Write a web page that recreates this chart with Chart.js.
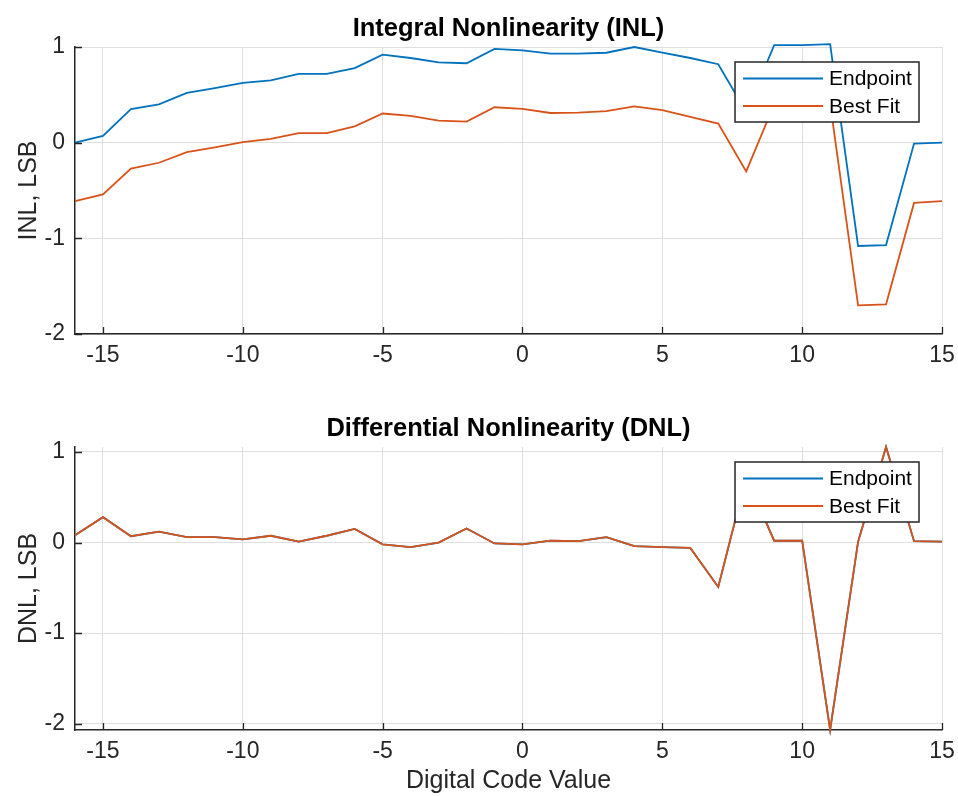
<!DOCTYPE html>
<html>
<head>
<meta charset="utf-8">
<script src="https://cdn.jsdelivr.net/npm/chart.js@4.4.1/dist/chart.umd.min.js"></script>
<style>
html, body { margin: 0; padding: 0; background: #fff; }
#wrap { position: relative; width: 958px; height: 796px; }
.box { position: absolute; left: 0; width: 958px; }
#topBox { top: 0; height: 390px; }
#botBox { top: 390px; height: 406px; }
</style>
</head>
<body>
<div id="wrap">
    <div class="box" id="topBox"><canvas id="inlChart"></canvas></div>
    <div class="box" id="botBox"><canvas id="dnlChart"></canvas></div>
</div>
<script>
// digital codes on the x axis
const codes = [-16, -15, -14, -13, -12, -11, -10, -9, -8, -7, -6, -5, -4, -3, -2, -1,
    0, 1, 2, 3, 4, 5, 6, 7, 8, 9, 10, 11, 12, 13, 14, 15]

// INL, LSB
const inlEndpoint = [0.00, 0.07, 0.35, 0.40, 0.52, 0.57, 0.625, 0.65, 0.72, 0.72, 0.78, 0.92, 0.885, 0.84, 0.83, 0.98,
    0.965, 0.93, 0.93, 0.94, 1.00, 0.94, 0.885, 0.82, 0.32, 1.02, 1.02, 1.03, -1.08, -1.07, -0.01, 0.00]
const inlBestFit = [-0.61, -0.54, -0.27, -0.21, -0.10, -0.05, 0.006, 0.04, 0.10, 0.10, 0.17, 0.305, 0.28, 0.23, 0.22, 0.37,
    0.354, 0.31, 0.315, 0.33, 0.38, 0.34, 0.27, 0.20, -0.30, 0.40, 0.40, 0.41, -1.70, -1.69, -0.63, -0.61]

// DNL, LSB (both methods give the same curve, orange sits on top of blue)
const dnlEndpoint = [0.08, 0.28, 0.07, 0.12, 0.06, 0.06, 0.035, 0.075, 0.01, 0.075, 0.15, -0.02, -0.05, 0.00, 0.155, -0.01,
    -0.02, 0.02, 0.015, 0.06, -0.04, -0.05, -0.06, -0.49, 0.72, 0.02, 0.02, -2.07, 0.01, 1.055, 0.015, 0.01]
const dnlBestFit = [0.08, 0.28, 0.07, 0.12, 0.06, 0.06, 0.035, 0.075, 0.01, 0.075, 0.15, -0.02, -0.05, 0.00, 0.155, -0.01,
    -0.02, 0.02, 0.015, 0.06, -0.04, -0.05, -0.06, -0.49, 0.72, 0.02, 0.02, -2.07, 0.01, 1.055, 0.015, 0.01]

const xTicks = [-15, -10, -5, 0, 5, 10, 15]
const yTicks = [-2, -1, 0, 1]
const seriesNames = ["Endpoint", "Best Fit"]

const BLUE = "#0072BD"
const ORANGE = "#D95319"
const AXIS = "#262626"
const FONT = "'Liberation Sans', Arial, sans-serif"

function points(values) {
    return codes.map((c, i) => ({ x: c, y: values[i] }))
}

// MATLAB-like extras: inward ticks, bold title, boxed legend
const matlabLook = {
    id: "matlabLook",
    afterDraw(chart, args, opts) {
        const { ctx, chartArea } = chart
        const xs = chart.scales.x
        const ys = chart.scales.y
        ctx.save()

        // inward tick marks
        ctx.strokeStyle = AXIS
        ctx.lineWidth = 1.3
        ctx.beginPath()
        xs.ticks.forEach(t => {
            const px = Math.round(xs.getPixelForValue(t.value)) + 0.5
            ctx.moveTo(px, chartArea.bottom)
            ctx.lineTo(px, chartArea.bottom - 7)
        })
        ys.ticks.forEach(t => {
            const py = Math.round(ys.getPixelForValue(t.value)) + 0.5
            ctx.moveTo(chartArea.left, py)
            ctx.lineTo(chartArea.left + 7, py)
        })
        ctx.stroke()

        // title
        ctx.fillStyle = "#000"
        ctx.font = "bold 25.5px " + FONT
        ctx.textAlign = "center"
        ctx.textBaseline = "alphabetic"
        ctx.fillText(opts.text, (chartArea.left + chartArea.right) / 2, chartArea.top - 11)

        // legend box
        const w = 184, h = 60
        const lx = chartArea.right - 207
        const ly = chartArea.top + 15
        ctx.fillStyle = "#fff"
        ctx.fillRect(lx, ly, w, h)
        ctx.strokeStyle = AXIS
        ctx.lineWidth = 1.5
        ctx.strokeRect(lx, ly, w, h)
        ctx.font = "21px " + FONT
        ctx.textAlign = "left"
        ctx.textBaseline = "middle"
        chart.data.datasets.forEach((ds, i) => {
            const yy = ly + 16.5 + i * 27.5
            ctx.strokeStyle = ds.borderColor
            ctx.lineWidth = 2
            ctx.beginPath()
            ctx.moveTo(lx + 8, yy)
            ctx.lineTo(lx + 88, yy)
            ctx.stroke()
            ctx.fillStyle = "#000"
            ctx.fillText(ds.label, lx + 94, yy + 1)
        })
        ctx.restore()
    }
}

function buildChart(canvasId, title, endpoint, bestFit, yMin, yMax, yTitle, xTitle, topPad, xAxisHeight) {
    return new Chart(document.getElementById(canvasId), {
        type: "line",
        data: {
            datasets: [
                // lower order is drawn on top, so Best Fit covers Endpoint
                { label: seriesNames[0], data: points(endpoint), borderColor: BLUE, borderWidth: 1.8, pointRadius: 0, tension: 0, clip: 6, order: 2 },
                { label: seriesNames[1], data: points(bestFit), borderColor: ORANGE, borderWidth: 1.8, pointRadius: 0, tension: 0, clip: 6, order: 1 }
            ]
        },
        options: {
            responsive: true,
            maintainAspectRatio: false,
            animation: false,
            layout: { padding: { top: topPad, right: 16, bottom: 0, left: 0 } },
            plugins: {
                legend: { display: false },
                tooltip: { enabled: false },
                matlabLook: { text: title }
            },
            scales: {
                x: {
                    type: "linear",
                    min: -16,
                    max: 15,
                    afterBuildTicks: s => { s.ticks = xTicks.map(v => ({ value: v })) },
                    afterFit: s => {
                        s.height = xAxisHeight
                        s.paddingLeft = 0
                        s.paddingRight = 0
                    },
                    grid: { color: "#dfdfdf", lineWidth: 1, drawTicks: false },
                    border: { display: true, color: AXIS, width: 1.5 },
                    ticks: { color: AXIS, font: { family: FONT, size: 23 }, padding: 8, maxRotation: 0 },
                    title: {
                        display: !!xTitle,
                        text: xTitle,
                        color: AXIS,
                        font: { family: FONT, size: 25 },
                        padding: { top: 0, bottom: 0 }
                    }
                },
                y: {
                    type: "linear",
                    min: yMin,
                    max: yMax,
                    afterBuildTicks: s => { s.ticks = yTicks.map(v => ({ value: v })) },
                    afterFit: s => { s.width = 75 },
                    grid: { color: "#dfdfdf", lineWidth: 1, drawTicks: false },
                    border: { display: true, color: AXIS, width: 1.5 },
                    ticks: { color: AXIS, font: { family: FONT, size: 23 }, padding: 10 },
                    title: {
                        display: true,
                        text: yTitle,
                        color: AXIS,
                        font: { family: FONT, size: 25 },
                        padding: { top: 14, bottom: 0 }
                    }
                }
            }
        },
        plugins: [matlabLook]
    })
}

buildChart("inlChart", "Integral Nonlinearity (INL)", inlEndpoint, inlBestFit, -2, 1, "INL, LSB", "", 47, 56)
buildChart("dnlChart", "Differential Nonlinearity (DNL)", dnlEndpoint, dnlBestFit, -2.07, 1.055, "DNL, LSB", "Digital Code Value", 57, 66)
</script>
</body>
</html>
